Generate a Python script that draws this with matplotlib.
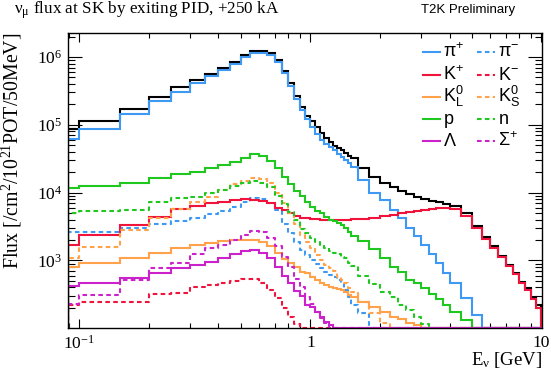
import numpy as np
import matplotlib
matplotlib.use('Agg')
import matplotlib.pyplot as plt
from matplotlib.ticker import LogLocator, FixedLocator, FixedFormatter, NullFormatter

plt.rcParams['font.family'] = 'Liberation Serif'
plt.rcParams['mathtext.fontset'] = 'custom'
plt.rcParams['mathtext.rm'] = 'Liberation Serif'
plt.rcParams['mathtext.it'] = 'Liberation Serif:italic'
plt.rcParams['mathtext.bf'] = 'Liberation Serif:bold'
plt.rcParams['mathtext.sf'] = 'Liberation Sans'

# bin edges in GeV (variable binning, values normalised per 50 MeV)
edges = [0.05, 0.10, 0.15, 0.20, 0.25, 0.30, 0.35, 0.40, 0.45, 0.50,
         0.55, 0.60, 0.65, 0.70, 0.75, 0.80, 0.85, 0.90, 0.95, 1.00,
         1.05, 1.10, 1.15, 1.20, 1.25, 1.30, 1.35, 1.40, 1.45, 1.50,
         1.6, 1.8, 2.0, 2.2, 2.4, 2.6, 2.8, 3.0,
         3.25, 3.5, 3.75, 4.0,
         4.5, 5.0, 5.5, 6.0, 6.5, 7.0, 7.5, 8.0, 8.5, 9.0, 9.5, 10.0]

total = [8.6e4, 1.12e5, 1.74e5, 2.6e5, 3.6e5, 4.6e5, 5.7e5, 6.9e5, 8.5e5, 1.08e6,
         1.21e6, 1.21e6, 1.14e6, 9.1e5, 6.3e5, 4.2e5, 2.7e5, 1.85e5, 1.36e5, 1.12e5,
         9.2e4, 7.5e4, 6.4e4, 5.5e4, 4.9e4, 4.5e4, 4.2e4, 3.8e4, 3.5e4, 3.2e4,
         2.3e4, 1.7e4, 1.41e4, 1.2e4, 1.05e4, 9.4e3, 8.7e3, 8.0e3, 7.5e3, 7.2e3,
         6.9e3, 6.3e3, 5.0e3, 3.2e3, 2.2e3, 1.63e3, 1.16e3, 855, 658, 484,
         387, 291, 219]

pi_plus = [6.15e4, 8.6e4, 1.45e5, 2.21e5, 3.1e5, 4.13e5, 5.17e5, 6.34e5, 7.9e5, 1.01e6,
           1.13e6, 1.13e6, 1.06e6, 8.4e5, 5.87e5, 3.73e5, 2.44e5, 1.65e5, 1.2e5, 9.2e4,
           7.3e4, 6.0e4, 5.2e4, 4.7e4, 4.2e4, 3.7e4, 3.37e4, 3.04e4, 2.75e4, 2.4e4,
           1.54e4, 1.0e4, 7.7e3, 5.6e3, 4.2e3, 3.0e3, 2.3e3, 1.69e3, 1.24e3, 915,
           652, 464, 279, 156, 0, 0, 0, 0, 0, 0,
           0, 0, 0]

pi_minus = [2.65e3, 2.65e3, 3.0e3, 3.45e3, 3.85e3, 4.3e3, 4.8e3, 5.4e3, 6.1e3, 7.2e3,
            8.4e3, 8.1e3, 7.1e3, 5.5e3, 3.5e3, 2.5e3, 1.9e3, 1.43e3, 1.2e3, 1.01e3,
            876, 764, 681, 619, 569, 513, 464, 366, 291, 219,
            166, 0, 0, 0, 0, 0, 0, 0, 0, 0,
            0, 0, 0, 0, 0, 0, 0, 0, 0, 0,
            0, 0, 0]

k_plus = [1.72e3, 2.35e3, 3.3e3, 4.4e3, 5.7e3, 6.3e3, 7.0e3, 7.3e3, 7.8e3, 8.0e3,
          7.8e3, 7.6e3, 7.0e3, 6.0e3, 5.5e3, 5.0e3, 4.6e3, 4.3e3, 4.3e3, 4.1e3,
          4.05e3, 3.95e3, 3.95e3, 3.95e3, 3.95e3, 3.95e3, 4.0e3, 4.0e3, 4.0e3, 4.1e3,
          4.15e3, 4.3e3, 4.5e3, 4.7e3, 5.0e3, 5.2e3, 5.4e3, 5.5e3, 5.7e3, 5.9e3,
          5.9e3, 5.7e3, 4.5e3, 3.0e3, 2.1e3, 1.54e3, 1.13e3, 827, 629, 459,
          366, 266, 196]

k_minus = [218, 245, 245, 319, 333, 405, 433, 461, 490, 530,
           540, 466, 366, 280, 198, 147, 115, 0, 0, 0,
           0, 0, 0, 0, 0, 0, 0, 0, 0, 0,
           0, 0, 0, 0, 0, 0, 0, 0, 0, 0,
           0, 0, 0, 0, 0, 0, 0, 0, 0, 0,
           0, 0, 0]

k0_long = [795, 905, 1.08e3, 1.3e3, 1.51e3, 1.69e3, 1.83e3, 1.95e3, 1.98e3, 2.02e3,
           2.0e3, 1.9e3, 1.65e3, 1.3e3, 1.04e3, 906, 791, 680, 644, 574,
           513, 469, 433, 405, 391, 378, 366, 341, 308, 288,
           245, 207, 175, 147, 135, 118, 111, 0, 0, 0,
           0, 0, 0, 0, 0, 0, 0, 0, 0, 0,
           0, 0, 0]

k0_short = [1.1e3, 1.56e3, 2.8e3, 4.3e3, 5.7e3, 7.3e3, 8.7e3, 1.1e4, 1.33e4, 1.5e4,
            1.63e4, 1.58e4, 1.38e4, 1.0e4, 7.0e3, 5.0e3, 3.45e3, 2.4e3, 1.89e3, 1.51e3,
            1.2e3, 1.01e3, 855, 773, 697, 574, 513, 464, 391, 341,
            245, 166, 119, 0, 0, 0, 0, 0, 0, 0,
            0, 0, 0, 0, 0, 0, 0, 0, 0, 0,
            0, 0, 0]

proton = [1.16e4, 1.26e4, 1.41e4, 1.63e4, 1.89e4, 2.04e4, 2.29e4, 2.56e4, 2.87e4, 3.26e4,
          3.67e4, 3.48e4, 2.97e4, 2.29e4, 1.72e4, 1.34e4, 1.05e4, 8.9e3, 7.4e3, 6.2e3,
          5.4e3, 4.97e3, 4.4e3, 3.95e3, 3.8e3, 3.6e3, 3.3e3, 3.0e3, 2.6e3, 2.3e3,
          1.93e3, 1.46e3, 1.08e3, 810, 670, 510, 460, 387, 318, 266,
          219, 174, 134, 0, 0, 0, 0, 0, 0, 0,
          0, 0, 0]

neutron = [5.0e3, 5.4e3, 5.5e3, 7.3e3, 8.3e3, 8.7e3, 1.0e4, 1.1e4, 1.25e4, 1.38e4,
           1.5e4, 1.41e4, 1.23e4, 9.0e3, 6.8e3, 5.2e3, 4.0e3, 2.9e3, 2.57e3, 2.16e3,
           1.89e3, 1.69e3, 1.51e3, 1.40e3, 1.27e3, 1.24e3, 1.13e3, 1.09e3, 915, 827,
           589, 448, 345, 288, 219, 185, 147, 115, 0, 0,
           0, 0, 0, 0, 0, 0, 0, 0, 0, 0,
           0, 0, 0]

lam = [418, 461, 546, 660, 764, 855, 955, 1.08e3, 1.23e3, 1.37e3,
       1.42e3, 1.3e3, 1.08e3, 808, 589, 461, 355, 298, 219, 203,
       175, 147, 124, 111, 0, 0, 0, 0, 0, 0,
       0, 0, 0, 0, 0, 0, 0, 0, 0, 0,
       0, 0, 0, 0, 0, 0, 0, 0, 0, 0,
       0, 0, 0]

sigma_plus = [228, 309, 513, 764, 906, 1.24e3, 1.51e3, 1.69e3, 2.0e3, 2.4e3,
              2.7e3, 2.6e3, 2.16e3, 1.61e3, 1.12e3, 790, 540, 408, 291, 232,
              175, 140, 118, 0, 0, 0, 0, 0, 0, 0,
              0, 0, 0, 0, 0, 0, 0, 0, 0, 0,
              0, 0, 0, 0, 0, 0, 0, 0, 0, 0,
              0, 0, 0]

c_pi = '#3d99f2'
c_k = '#f0143c'
c_k0 = '#ffa24a'
c_p = '#1ec81e'
c_lam = '#cc22cc'

# (values, legend label, colour, dotted) in drawing order
series = [
    (total, None, 'black', False),
    (pi_plus, r'$\mathsf{π^{+}}$', c_pi, False),
    (pi_minus, r'$\mathsf{π^{-}}$', c_pi, True),
    (k_plus, r'$\mathsf{K^{+}}$', c_k, False),
    (k_minus, r'$\mathsf{K^{-}}$', c_k, True),
    (k0_long, r'$\mathsf{K^{0}_{L}}$', c_k0, False),
    (k0_short, r'$\mathsf{K^{0}_{S}}$', c_k0, True),
    (proton, r'$\mathsf{p}$', c_p, False),
    (neutron, r'$\mathsf{n}$', c_p, True),
    (lam, r'$\mathsf{Λ}$', c_lam, False),
    (sigma_plus, r'$\mathsf{Σ^{+}}$', c_lam, True),
]

x_lo, x_hi = 0.0893, 10.05
y_lo, y_hi = 101, 2.26e6

fig = plt.figure(figsize=(5.51, 3.75), dpi=100)
ax = fig.add_axes([68 / 551, 1 - 328 / 375, 474 / 551, 295 / 375])


def outline(vals):
    # ROOT-like histogram outline; empty bins sit on the bottom of the frame
    v = np.asarray(vals, dtype=float)
    v = np.where(v > 0, v, y_lo)
    xe = np.clip(edges, x_lo, None)
    xs = np.repeat(xe, 2)
    ys = np.concatenate([[y_lo], np.repeat(v, 2), [y_lo]])
    return xs, ys


for vals, lab, col, dotted in series:
    xs, ys = outline(vals)
    ls = (0, (2.2, 1.6)) if dotted else '-'
    ax.plot(xs, ys, color=col, lw=1.5, ls=ls, solid_joinstyle='miter')

ax.set_xscale('log')
ax.set_yscale('log')
ax.set_xlim(x_lo, x_hi)
ax.set_ylim(y_lo, y_hi)

ax.xaxis.set_major_locator(FixedLocator([0.1, 1, 10]))
ax.xaxis.set_major_formatter(FixedFormatter([r'$10^{-1}$', '1', '10']))
ax.xaxis.set_minor_locator(LogLocator(base=10, subs=np.arange(2, 10)))
ax.xaxis.set_minor_formatter(NullFormatter())
ax.yaxis.set_minor_locator(LogLocator(base=10, subs=np.arange(2, 10), numticks=20))
ax.yaxis.set_minor_formatter(NullFormatter())

ax.tick_params(which='both', direction='in', top=True, right=True, width=0.8,
               labelsize=12.5)
ax.tick_params(axis='y', which='major', length=10, pad=4)
ax.tick_params(axis='y', which='minor', length=5)
ax.tick_params(axis='x', which='major', length=6.5, pad=5)
ax.tick_params(axis='x', which='minor', length=3.3)
for sp in ax.spines.values():
    sp.set_linewidth(1.0)

ax.set_xlabel(r'E$_{\mathrm{ν}}$ [GeV]', fontsize=13.5, loc='right')
ax.xaxis.set_label_coords(1.0, -0.075)
ax.set_ylabel(r'Flux [/cm$^{2}$/10$^{21}$POT/50MeV]', fontsize=14.3, loc='top')
ax.yaxis.set_label_coords(-0.092, 1.0)

fig.text(14 / 551, 1 - 14 / 375, r'ν$_{\mathrm{μ}}$ flux at SK by exiting PID, +250 kA',
         fontsize=12.3, va='baseline', ha='left')
fig.text(515 / 551, 1 - 13 / 375, 'T2K Preliminary', fontsize=9.5,
         family='Liberation Sans', va='baseline', ha='right')

# legend: two columns, solid on the left, dotted on the right
solid = [s for s in series if s[1] is not None and not s[3]]
dotted = [s for s in series if s[1] is not None and s[3]]
row_h = 0.0753
for col_x, group in ((0.748, solid), (0.863, dotted)):
    for i, (vals, lab, col, dot) in enumerate(group):
        yy = 0.9346 - i * row_h
        ls = (0, (2.2, 1.6)) if dot else '-'
        ax.plot([col_x, col_x + 0.037], [yy, yy], transform=ax.transAxes,
                color=col, lw=1.5, ls=ls, clip_on=False)
        ax.text(col_x + 0.044, yy - 0.017, lab, transform=ax.transAxes,
                fontsize=13, va='baseline', ha='left', family='Liberation Sans')

fig.savefig('out.png', dpi=100)
